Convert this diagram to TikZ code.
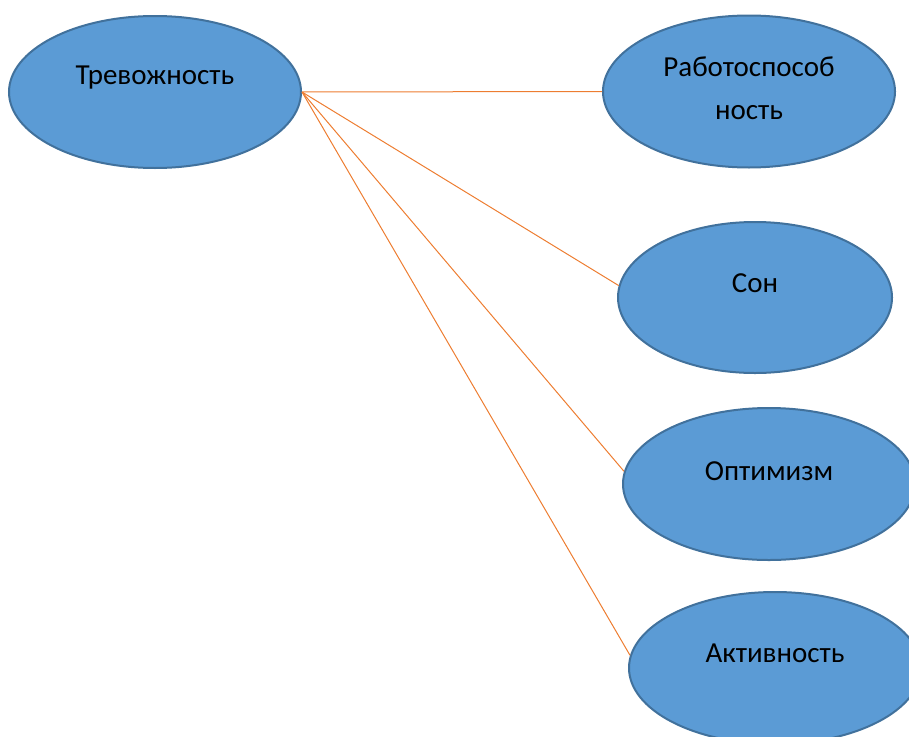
\documentclass[tikz,border=0pt]{standalone}
\usepackage{fontspec}
\setmainfont{Carlito}
\usetikzlibrary{shapes.geometric}

\definecolor{ovalblue}{HTML}{5B9BD5}
\definecolor{ovalrim}{HTML}{41719C}
\definecolor{linkorange}{HTML}{ED7D31}

\tikzset{
    oval/.style={ellipse, draw=ovalrim, line width=2pt, fill=ovalblue,
        minimum width=292pt, minimum height=152pt, inner sep=0pt},
    word/.style={font=\fontsize{29}{43}\selectfont, align=center},
    link/.style={linkorange, line width=1pt}
}

\begin{document}
\begin{tikzpicture}[x=1pt, y=-1pt]
            \useasboundingbox (0,0) rectangle (909,736);
            \clip (0,0) rectangle (909,736);

            \node[oval] (trev) at (155,92) {};
            \node[oval] (rab) at (749,91.5) {};
            \node[oval, minimum width=274pt, minimum height=151pt] (son) at (755,297.5) {};
            \node[oval] (opt) at (769,484) {};
            \node[oval] (akt) at (775,668) {};

            \node[word] (trev-t) at (155,78) {Тревожность};
            \node[word] (rab-t) at (749,88) {Работоспособ\\ность};
            \node[word] (son-t) at (755,283) {Сон};
            \node[word] (opt-t) at (769,471) {Оптимизм};
            \node[word] (akt-t) at (775,653) {Активность};

            \draw[link] (trev.east) -- (rab.west);
            \draw[link] (trev.east) -- (son.175);
            \draw[link] (trev.east) -- (opt.175);
            \draw[link] (trev.east) -- (akt.175);
        \end{tikzpicture}
\end{document}
